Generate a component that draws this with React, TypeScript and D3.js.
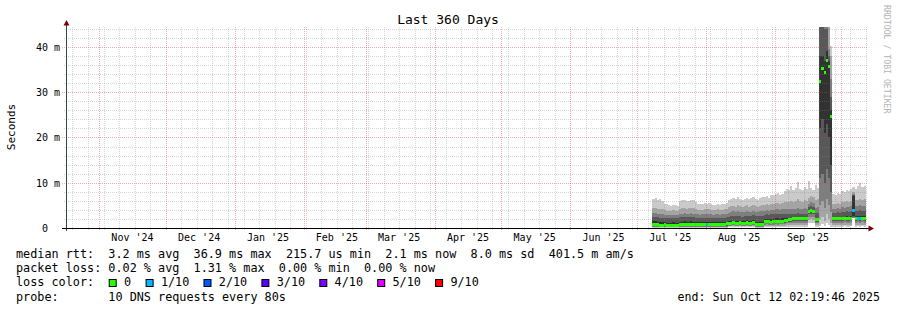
import React from "react";
import * as d3 from "d3";

const DAY = 86400000;
const END_TIME = Date.UTC(2025, 9, 12, 2, 19, 46);
const START_TIME = END_TIME - 360 * DAY;
const FIRST_SAMPLE = Date.UTC(2025, 6, 8);

const yTickValues = [0, 10, 20, 30, 40];
const yTickLabels = ["0  ", "10 m", "20 m", "30 m", "40 m"];
const monthLabels = ["Nov '24", "Dec '24", "Jan '25", "Feb '25", "Mar '25", "Apr '25", "May '25", "Jun '25", "Jul '25", "Aug '25", "Sep '25"];

// sorted ping round-trip times per daily sample (ms), lowest (ping1) .. highest (ping10)
const ping10 = [
  6.4, 6.6, 6.2, 6.3, 6.0, 5.4, 5.2, 5.0, 4.9, 5.1, 5.0, 4.8, 6.0, 6.2, 6.1, 5.9, 6.0, 6.2, 6.1, 5.8, 5.4, 5.2, 5.3, 5.5,
  5.4, 5.6, 5.2, 5.0, 5.1, 5.3, 5.0, 5.2, 5.4, 5.5,
  6.2, 6.5, 6.6, 6.3, 6.8, 6.4, 6.1, 6.5, 6.7, 6.3, 6.6, 6.9,
  6.4, 6.2, 6.6, 6.8,
  6.8, 7.0, 6.7, 7.2, 7.4, 7.5, 7.8, 7.3, 7.6, 8.2,
  8.6, 8.3, 9.2, 8.5, 8.8, 10.2, 8.6, 8.4, 9.0, 8.7, 10.4, 8.9, 8.5, 9.6, 8.8,
  50, 50, 50, 50, 50, 40.2,
  7.6, 7.4, 7.8, 7.5, 8.2, 8.0, 8.4, 8.1, 8.6, 9.0, 8.7, 9.2, 10.0, 9.0, 9.3,
];
const ping9 = [
  4.4, 4.5, 4.3, 4.2, 4.1, 3.9, 3.8, 3.7, 3.8, 3.9, 3.8, 3.7, 4.3, 4.4, 4.5, 4.3, 4.4, 4.5, 4.4, 4.2, 4.0, 3.9, 4.0, 4.1,
  4.1, 4.2, 4.0, 3.9, 4.0, 4.1, 3.9, 4.0, 4.2, 4.3,
  4.6, 4.8, 4.9, 4.7, 5.0, 4.8, 4.6, 4.8, 5.0, 4.7, 4.9, 5.1,
  4.8, 4.7, 4.9, 5.0,
  5.0, 5.2, 5.0, 5.3, 5.4, 5.5, 5.6, 5.4, 5.5, 5.8,
  5.8, 5.7, 6.0, 5.8, 5.9, 6.3, 5.9, 5.8, 6.1, 6.0, 6.6, 7.0, 6.8, 6.2, 6.4,
  50, 50, 50, 50, 47, 38,
  5.4, 5.3, 5.5, 5.4, 5.8, 5.7, 5.9, 5.8, 6.0, 8.0, 6.1, 6.2, 6.4, 6.1, 6.3,
];
const ping8 = [
  3.3, 3.3, 3.2, 3.1, 3.0, 2.9, 2.8, 2.8, 2.8, 2.9, 2.8, 2.8, 3.2, 3.2, 3.3, 3.2, 3.2, 3.3, 3.2, 3.1, 3.0, 2.9, 3.0, 3.0,
  3.0, 3.1, 3.0, 2.9, 3.0, 3.0, 2.9, 3.0, 3.1, 3.2,
  3.4, 3.6, 3.7, 3.5, 3.7, 3.6, 3.5, 3.6, 3.7, 3.5, 3.6, 3.8,
  3.6, 3.5, 3.7, 3.7,
  3.8, 3.9, 3.8, 4.0, 4.0, 4.1, 4.2, 4.0, 4.1, 4.3,
  4.2, 4.1, 4.3, 4.2, 4.2, 4.5, 4.2, 4.2, 4.4, 4.3, 5.4, 5.8, 5.6, 4.5, 4.6,
  50, 50, 46, 46, 39.5, 33,
  4.3, 4.2, 4.4, 4.3, 4.6, 4.5, 4.7, 4.6, 4.8, 7.6, 4.8, 4.9, 5.0, 4.8, 4.9,
];
const ping7 = [
  2.5, 2.5, 2.4, 2.3, 2.3, 2.2, 2.1, 2.1, 2.1, 2.2, 2.1, 2.1, 2.4, 2.4, 2.5, 2.4, 2.4, 2.5, 2.4, 2.3, 2.2, 2.2, 2.2, 2.3,
  2.2, 2.3, 2.2, 2.2, 2.2, 2.3, 2.2, 2.2, 2.3, 2.4,
  2.5, 2.6, 2.7, 2.6, 2.7, 2.6, 2.5, 2.6, 2.7, 2.6, 2.6, 2.8,
  2.6, 2.6, 2.7, 2.7,
  2.9, 3.0, 2.9, 3.0, 3.0, 3.1, 3.1, 3.0, 3.1, 3.2,
  3.1, 3.1, 3.2, 3.1, 3.1, 3.3, 3.1, 3.1, 3.2, 3.2, 4.6, 4.9, 4.7, 3.3, 3.4,
  46, 47, 44, 44, 38, 29,
  3.4, 3.3, 3.5, 3.4, 3.6, 3.5, 3.7, 3.6, 3.7, 7.3, 3.8, 3.8, 3.9, 3.7, 3.8,
];
const ping6 = [
  1.5, 1.5, 1.4, 1.4, 1.3, 1.3, 1.2, 1.2, 1.2, 1.3, 1.2, 1.2, 1.4, 1.4, 1.5, 1.4, 1.4, 1.5, 1.4, 1.3, 1.3, 1.3, 1.3, 1.3,
  1.3, 1.4, 1.3, 1.3, 1.3, 1.4, 1.3, 1.3, 1.4, 1.4,
  1.5, 1.6, 1.6, 1.5, 1.6, 1.6, 1.5, 1.6, 1.7, 1.6, 1.6, 1.7,
  1.4, 1.3, 1.4, 1.4,
  1.9, 2.0, 1.9, 2.0, 2.0, 2.1, 2.1, 2.0, 2.1, 2.1,
  2.1, 2.1, 2.1, 2.1, 2.1, 2.2, 2.1, 2.1, 2.2, 2.2, 4.0, 4.2, 4.0, 2.2, 2.2,
  38, 38, 37, 39, 37, 26,
  2.4, 2.3, 2.4, 2.4, 2.5, 2.5, 2.6, 2.5, 2.6, 7.0, 2.6, 2.6, 2.7, 2.6, 2.6,
];
const ping5 = [
  0.6, 0.5, 0.6, 0.5, 0.5, 0.5, 0.5, 0.4, 0.4, 0.5, 0.4, 0.5, 0.6, 0.6, 0.5, 0.6, 0.6, 0.5, 0.6, 0.6, 0.5, 0.5, 0.6, 0.5,
  0.6, 0.6, 0.5, 0.5, 0.6, 0.6, 0.5, 0.6, 0.6, 0.7,
  0.9, 0.9, 1.0, 0.9, 0.9, 1.0, 0.9, 0.9, 1.0, 0.9, 0.9, 1.0,
  0.6, 0.5, 0.5, 0.5,
  1.2, 1.3, 1.2, 1.1, 1.2, 1.3, 1.2, 1.3, 1.3, 1.4,
  1.5, 1.6, 1.7, 1.8, 1.8, 1.9, 1.8, 1.9, 1.9, 1.8, 3.4, 3.5, 3.4, 1.7, 1.6,
  22, 24, 21, 23, 20, 14,
  1.8, 1.9, 1.9, 1.8, 1.9, 2.0, 1.9, 1.9, 2.0, 2.6, 1.9, 2.0, 1.9, 2.0, 1.9,
];
const ping4 = [
  0.45, 0.4, 0.45, 0.4, 0.4, 0.4, 0.35, 0.35, 0.35, 0.4, 0.35, 0.4, 0.45, 0.45, 0.4, 0.45, 0.45, 0.4, 0.45, 0.45, 0.4, 0.4, 0.45, 0.4,
  0.45, 0.45, 0.4, 0.4, 0.45, 0.45, 0.4, 0.45, 0.45, 0.5,
  0.7, 0.7, 0.8, 0.7, 0.7, 0.8, 0.7, 0.7, 0.8, 0.7, 0.7, 0.8,
  0.45, 0.4, 0.4, 0.45,
  1.0, 1.1, 1.0, 0.9, 1.0, 1.1, 1.0, 1.1, 1.1, 1.2,
  1.3, 1.4, 1.4, 1.5, 1.5, 1.6, 1.5, 1.6, 1.6, 1.5, 3.0, 3.1, 3.0, 1.4, 1.3,
  11, 12, 10, 13, 11, 8,
  1.5, 1.6, 1.6, 1.5, 1.6, 1.7, 1.6, 1.6, 1.7, 2.4, 1.6, 1.7, 1.6, 1.7, 1.6,
];
const ping3 = [
  0.3, 0.3, 0.3, 0.3, 0.3, 0.3, 0.25, 0.25, 0.25, 0.3, 0.25, 0.3, 0.3, 0.3, 0.3, 0.3, 0.3, 0.3, 0.3, 0.3, 0.3, 0.3, 0.3, 0.3,
  0.3, 0.3, 0.3, 0.3, 0.3, 0.3, 0.3, 0.3, 0.3, 0.3,
  0.5, 0.5, 0.6, 0.5, 0.5, 0.6, 0.5, 0.5, 0.6, 0.5, 0.5, 0.6,
  0.3, 0.3, 0.3, 0.3,
  0.7, 0.8, 0.7, 0.7, 0.7, 0.8, 0.7, 0.8, 0.8, 0.9,
  1.0, 1.0, 1.1, 1.1, 1.1, 1.2, 1.1, 1.2, 1.2, 1.1, 2.4, 2.5, 2.4, 1.0, 1.0,
  5, 6, 4.5, 6.5, 5, 3.5,
  1.1, 1.2, 1.2, 1.1, 1.2, 1.3, 1.2, 1.2, 1.3, 2.3, 1.2, 1.3, 1.2, 1.3, 1.2,
];
const ping2 = [
  0.2, 0.2, 0.2, 0.2, 0.2, 0.2, 0.2, 0.2, 0.2, 0.2, 0.2, 0.2, 0.2, 0.2, 0.2, 0.2, 0.2, 0.2, 0.2, 0.2, 0.2, 0.2, 0.2, 0.2,
  0.2, 0.2, 0.2, 0.2, 0.2, 0.2, 0.2, 0.2, 0.2, 0.2,
  0.35, 0.35, 0.35, 0.35, 0.35, 0.35, 0.35, 0.35, 0.35, 0.35, 0.35, 0.35,
  0.2, 0.2, 0.2, 0.2,
  0.45, 0.45, 0.45, 0.45, 0.45, 0.45, 0.45, 0.45, 0.45, 0.45,
  0.6, 0.6, 0.65, 0.65, 0.65, 0.7, 0.65, 0.7, 0.7, 0.65, 1.8, 1.9, 1.8, 0.6, 0.6,
  2.0, 2.5, 1.5, 3.0, 2.0, 1.2,
  0.6, 0.7, 0.7, 0.6, 0.7, 0.75, 0.7, 0.7, 0.75, 2.2, 0.7, 0.75, 0.7, 0.75, 0.7,
];
const ping1 = [
  0.1, 0.1, 0.1, 0.1, 0.1, 0.1, 0.1, 0.1, 0.1, 0.1, 0.1, 0.1, 0.1, 0.1, 0.1, 0.1, 0.1, 0.1, 0.1, 0.1, 0.1, 0.1, 0.1, 0.1,
  0.1, 0.1, 0.1, 0.1, 0.1, 0.1, 0.1, 0.1, 0.1, 0.1,
  0.15, 0.15, 0.15, 0.15, 0.15, 0.15, 0.15, 0.15, 0.15, 0.15, 0.15, 0.15,
  0.1, 0.1, 0.1, 0.1,
  0.2, 0.2, 0.2, 0.2, 0.2, 0.2, 0.2, 0.2, 0.2, 0.2,
  0.3, 0.3, 0.3, 0.3, 0.3, 0.3, 0.3, 0.3, 0.3, 0.3, 1.0, 1.1, 1.0, 0.3, 0.3,
  0.5, 0.8, 0.4, 1.0, 0.6, 0.3,
  0.3, 0.3, 0.3, 0.3, 0.3, 0.35, 0.3, 0.3, 0.35, 2.1, 0.3, 0.35, 0.3, 0.35, 0.3,
];
const medianRtt = [
  0.8, 0.7, 0.8, 0.6, 0.6, 0.7, 0.6, 0.5, 0.5, 0.6, 0.5, 0.6, 0.8, 0.8, 0.7, 0.8, 0.8, 0.7, 0.8, 0.8, 0.7, 0.7, 0.8, 0.7,
  0.8, 0.8, 0.7, 0.7, 0.8, 0.8, 0.7, 0.8, 0.8, 0.9,
  1.1, 1.1, 1.2, 1.1, 1.1, 1.2, 1.1, 1.1, 1.2, 1.1, 1.1, 1.2,
  0.8, 0.7, 0.7, 0.7,
  1.4, 1.5, 1.4, 1.3, 1.4, 1.5, 1.4, 1.5, 1.5, 1.6,
  1.7, 1.8, 1.9, 2.0, 2.0, 2.1, 2.0, 2.1, 2.1, 2.0, 3.6, 3.8, 3.6, 1.9, 1.8,
  32.3, 35.3, 34.3, 36.9, 35.6, 24.6,
  2.0, 2.1, 2.1, 2.0, 2.1, 2.2, 2.1, 2.1, 2.2, 3.8, 2.1, 2.2, 2.1, 2.2, 2.1,
];
const lostPings = [
  0, 0, 0, 0, 0, 0, 0, 0, 0, 0, 0, 0, 0, 0, 0, 0, 0, 0, 0, 0, 0, 0, 0, 0,
  1, 0, 0, 0, 0, 0, 0, 0, 0, 0,
  0, 0, 0, 0, 0, 0, 0, 0, 0, 0, 0, 0,
  0, 0, 0, 0,
  0, 0, 0, 0, 0, 0, 0, 0, 0, 0,
  0, 0, 0, 0, 0, 0, 0, 0, 0, 0, 0, 0, 0, 0, 0,
  0, 0, 0, 0, 0, 0,
  0, 0, 0, 0, 0, 0, 0, 0, 0, 1, 0, 1, 1, 0, 0,
];

const lossColors = ["#26ff00", "#00b8ff", "#0059ff", "#5e00ff", "#7e00ff", "#dd00ff", "#ff0000"];
const lossLabels = ["0", "1/10", "2/10", "3/10", "4/10", "5/10", "9/10"];
const smokeColors = ["#cacaca", "#a4a4a4", "#7e7e7e", "#585858", "#323232"];

const legendRow1 = "median rtt:  3.2 ms avg  36.9 ms max  215.7 us min  2.1 ms now  8.0 ms sd  401.5 m am/s";
const legendRow2 = "packet loss: 0.02 % avg  1.31 % max  0.00 % min  0.00 % now";
const legendRow3 = "loss color:";
const legendRow4 = "probe:       10 DNS requests every 80s";
const endLabel = "end: Sun Oct 12 02:19:46 2025";
const titleText = "Last 360 Days";
const yAxisTitle = "Seconds";
const watermark = "RRDTOOL / TOBI OETIKER";

const MONO = "'DejaVu Sans Mono', 'Liberation Mono', monospace";

export default function App() {
  const L = 66, R = 866, T = 27, B = 228;
  const x = d3.scaleUtc().domain([new Date(START_TIME), new Date(END_TIME)]).range([L, R]);
  const y = d3.scaleLinear().domain([0, 44.4]).range([B, T]);
  const n = ping10.length;
  const times = d3.utcDay.range(new Date(FIRST_SAMPLE), new Date(END_TIME)).slice(0, n);
  const edgeTime = (i: number) => (i < n ? times[i] : new Date(END_TIME));

  const pings = [ping1, ping2, ping3, ping4, ping5, ping6, ping7, ping8, ping9, ping10];
  const idx = d3.range(n + 1);
  const bands = smokeColors.map((c, k) => {
    const lo = pings[k];
    const hi = pings[9 - k];
    const path = d3
      .area<number>()
      .x((i) => x(edgeTime(i)))
      .y0((i) => y(lo[Math.min(i, n - 1)]))
      .y1((i) => y(hi[Math.min(i, n - 1)]))
      .curve(d3.curveStepAfter)(idx);
    return { c, path: path || "" };
  });

  const px = (v: number) => Math.round(v) + 0.5;

  const minorY = d3.range(2, 44.4, 2).filter((v) => v % 10 !== 0);
  const majorY = [10, 20, 30, 40];
  const months = d3.utcMonth.range(new Date(START_TIME), new Date(END_TIME));
  const monthKeys = new Set(months.map((m) => +m));
  const weeks = d3.utcSunday.range(new Date(START_TIME), new Date(END_TIME)).filter((w) => !monthKeys.has(+w));
  const labelMonths = months.slice(0, monthLabels.length);

  const minorStroke = "rgba(130,130,130,0.32)";
  const majorStroke = "rgba(220,60,60,0.42)";

  const CW = 7.0;
  let bx = 108.7;
  const boxes = lossLabels.map((lab, i) => {
    const item = { x: bx, lab, c: lossColors[i] };
    bx += 15 + lab.length * CW + 14.9;
    return item;
  });

  return (
    <svg
      width={897}
      height={310}
      style={{ position: "absolute", left: 0, top: 0, background: "#fff", display: "block" }}
      fontFamily={MONO}
    >
      <rect x={0} y={0} width={897} height={310} fill="#ffffff" />
      <defs>
        <clipPath id="plot">
          <rect x={L} y={T} width={R - L} height={B - T} />
        </clipPath>
      </defs>

      <g clipPath="url(#plot)">
        {bands.map((b, k) => (
          <path key={k} d={b.path} fill={b.c} shapeRendering="crispEdges" />
        ))}
        {medianRtt.map((m, i) => {
          const x0 = x(edgeTime(i));
          const x1 = x(edgeTime(i + 1));
          const yc = y(m);
          const c = lossColors[Math.min(lostPings[i], 6)];
          return <rect key={i} x={x0} y={yc - 1.5} width={x1 - x0} height={3} fill={c} shapeRendering="crispEdges" />;
        })}
      </g>

      {/* grid */}
      <g strokeDasharray="1 1" strokeWidth={1} fill="none">
        {minorY.map((v) => (
          <line key={"my" + v} x1={64} x2={868} y1={px(y(v))} y2={px(y(v))} stroke={minorStroke} />
        ))}
        {weeks.map((w) => (
          <line key={"wk" + +w} x1={px(x(w))} x2={px(x(w))} y1={T} y2={B + 2} stroke={minorStroke} />
        ))}
        {majorY.map((v) => (
          <line key={"My" + v} x1={62} x2={868} y1={px(y(v))} y2={px(y(v))} stroke={majorStroke} />
        ))}
        {months.map((m) => (
          <line key={"mo" + +m} x1={px(x(m))} x2={px(x(m))} y1={T} y2={B + 3} stroke={majorStroke} />
        ))}
      </g>

      {/* axes */}
      <line x1={66.5} x2={66.5} y1={231} y2={24} stroke="#2c4d43" strokeWidth={1} />
      <line x1={62} x2={869} y1={228.5} y2={228.5} stroke="#000" strokeWidth={1} />
      <path d="M63.5,25.5 L69.5,25.5 L66.5,20 Z" fill="#7f0000" />
      <path d="M868.5,225.5 L868.5,231.5 L874,228.5 Z" fill="#7f0000" />

      {/* y tick labels */}
      {yTickValues.map((v, i) => (
        <text
          key={"yl" + v}
          x={60}
          y={px(y(v))}
          dy="0.35em"
          fontSize={10}
          textAnchor="end"
          fill="#000"
          xmlSpace="preserve"
        >
          {yTickLabels[i]}
        </text>
      ))}

      {/* month labels */}
      {labelMonths.map((m, i) => (
        <text key={"ml" + i} x={x(d3.utcDay.offset(m, 15))} y={241} fontSize={10} textAnchor="middle" fill="#000" xmlSpace="preserve">
          {monthLabels[i]}
        </text>
      ))}

      {/* titles */}
      <text x={448} y={23.5} fontSize={13} textAnchor="middle" fill="#000">
        {titleText}
      </text>
      <text x={15} y={127} fontSize={11} textAnchor="middle" fill="#000" transform="rotate(-90 15 127)">
        {yAxisTitle}
      </text>
      <text x={884} y={5} fontSize={8.2} fill="#b4b4b4" transform="rotate(90 884 5)">
        {watermark}
      </text>

      {/* legend */}
      <g fontSize={11.8} fill="#000">
        <text x={16} y={258} xmlSpace="preserve">{legendRow1}</text>
        <text x={16} y={272.2} xmlSpace="preserve">{legendRow2}</text>
        <text x={16} y={286.4} xmlSpace="preserve">{legendRow3}</text>
        <text x={16} y={300.6} xmlSpace="preserve">{legendRow4}</text>
        <text x={880} y={300.6} textAnchor="end" fontSize={11.6} xmlSpace="preserve">{endLabel}</text>
        {boxes.map((b, i) => (
          <g key={"lb" + i}>
            <rect x={b.x + 0.5} y={279.5} width={7} height={7} fill={b.c} stroke="#000" strokeWidth={1} />
            <text x={b.x + 15.3} y={286.4}>{b.lab}</text>
          </g>
        ))}
      </g>
    </svg>
  );
}
